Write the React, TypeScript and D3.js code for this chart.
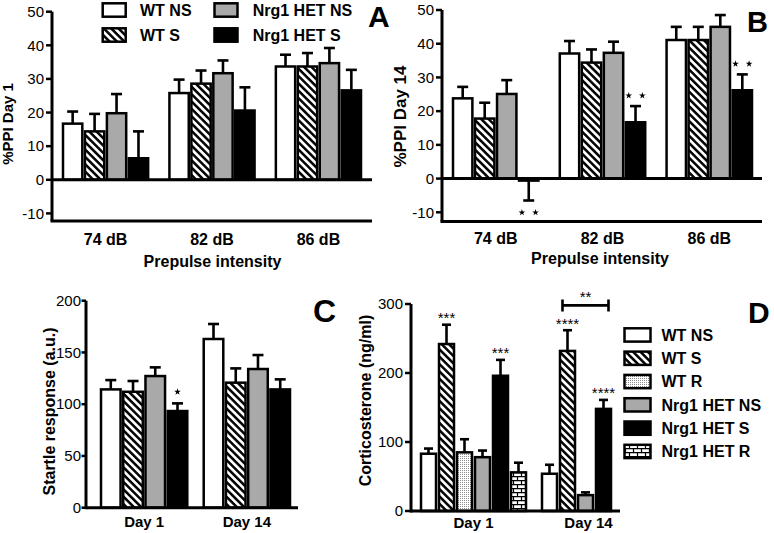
import React from "react";
import * as d3 from "d3";

// ---------------- data ----------------
const ppiGroups = ["74 dB", "82 dB", "86 dB"];
const ppiSeries = ["WT NS", "WT S", "Nrg1 HET NS", "Nrg1 HET S"];
const ppiDay1Mean = [[16.7, 14.4, 19.8, 6.4], [25.8, 28.6, 31.7, 20.6], [33.7, 33.7, 34.7, 26.6]];
const ppiDay1ErrEnd = [[20.3, 19.6, 25.5, 14.4], [29.8, 32.5, 35.5, 27.5], [37.2, 37.7, 39.2, 32.7]];
const ppiDay1Stars = [[0, 0, 0, 0], [0, 0, 0, 0], [0, 0, 0, 0]];
const ppiDay14Mean = [[23.8, 17.8, 25.1, -0.6], [37.1, 34.4, 37.3, 16.7], [41.1, 41.1, 45.0, 26.2]];
const ppiDay14ErrEnd = [[27.2, 22.5, 29.2, -6.5], [40.8, 38.3, 40.6, 21.5], [45.0, 45.0, 48.5, 30.9]];
const ppiDay14Stars = [[0, 0, 0, 2], [0, 0, 0, 2], [0, 0, 0, 2]];
const ppiTicks = [-10, 0, 10, 20, 30, 40, 50];

const days = ["Day 1", "Day 14"];
const startleMean = [[114.3, 112.0, 127.2, 93.4], [163.0, 120.8, 134.0, 114.3]];
const startleErrEnd = [[123.3, 122.4, 135.6, 100.8], [177.5, 134.6, 147.5, 124.0]];
const startleStars = [[0, 0, 0, 1], [0, 0, 0, 0]];
const startleTicks = [0, 50, 100, 150, 200];

const cortSeries = ["WT NS", "WT S", "WT R", "Nrg1 HET NS", "Nrg1 HET S", "Nrg1 HET R"];
const cortDay14Series = ["WT NS", "WT S", "Nrg1 HET NS", "Nrg1 HET S"];
const cortDay1Mean = [83, 242, 85, 78, 196, 56];
const cortDay1ErrEnd = [90.5, 270, 104, 87.6, 219, 70];
const cortDay1Sig = ["", "***", "", "", "***", ""];
const cortDay14Mean = [54, 232, 23, 148];
const cortDay14ErrEnd = [67, 262, 27, 161];
const cortDay14Sig = ["", "****", "", "****"];
const cortTicks = [0, 100, 200, 300];
const cortBracketEnds = ["WT S", "Nrg1 HET S"];
const cortBracketLabel = "**";

// ---------------- styling ----------------
const FONT = "'Liberation Sans', Arial, Helvetica, sans-serif";
const FILL: Record<string, string> = {
  "WT NS": "#ffffff",
  "WT S": "url(#hatch)",
  "WT R": "url(#dots)",
  "Nrg1 HET NS": "#a9a9a9",
  "Nrg1 HET S": "#000000",
  "Nrg1 HET R": "url(#brick)",
};
const starPath = d3.symbol().type(d3.symbolStar).size(14)() as string;

function Defs() {
  return (
    <defs>
      <pattern id="hatch" patternUnits="userSpaceOnUse" width="5.2" height="5.2" patternTransform="rotate(-45)">
        <rect width="5.2" height="5.2" fill="#fff" />
        <line x1="1.3" y1="-1" x2="1.3" y2="7" stroke="#000" strokeWidth="2.5" />
      </pattern>
      <pattern id="dots" patternUnits="userSpaceOnUse" width="2" height="2">
        <rect width="2" height="2" fill="#fff" />
        <rect width="1" height="1" fill="#8a8a8a" />
      </pattern>
      <pattern id="brick" patternUnits="userSpaceOnUse" width="8" height="8">
        <rect width="8" height="8" fill="#fff" />
        <path d="M0 0.6H8M0 4.6H8M1.5 0.6V4.6M5.5 4.6V8.6" stroke="#000" strokeWidth="1.2" fill="none" />
      </pattern>
    </defs>
  );
}

function Bar({ x, w, v, e, y, fill, cap }: any) {
  const y0 = y(0);
  const yv = y(v);
  const ye = y(e);
  const cx = x + w / 2;
  return (
    <g>
      <line x1={cx} x2={cx} y1={yv} y2={ye} stroke="#000" strokeWidth={2.6} />
      <line x1={cx - cap / 2} x2={cx + cap / 2} y1={ye} y2={ye} stroke="#000" strokeWidth={2.6} />
      <rect x={x} y={Math.min(y0, yv)} width={w} height={Math.abs(y0 - yv)} fill={fill} stroke="#000" strokeWidth={2.5} />
    </g>
  );
}

function Stars({ cx, cy, n }: any) {
  const offs = n === 2 ? [-6.8, 6.8] : n === 1 ? [0] : [];
  return (
    <g>
      {offs.map((o, i) => (
        <path key={i} d={starPath} transform={`translate(${cx + o},${cy})`} fill="#000" />
      ))}
    </g>
  );
}

function YAxis({ x, y, ticks, tickLen, pad, top, bottom, fontSize }: any) {
  return (
    <g>
      <line x1={x} x2={x} y1={top} y2={bottom} stroke="#000" strokeWidth={3} />
      {ticks.map((t: number) => (
        <g key={t}>
          <line x1={x - tickLen} x2={x} y1={y(t)} y2={y(t)} stroke="#000" strokeWidth={2.5} />
          <text x={x - tickLen - pad} y={y(t)} dy="0.35em" textAnchor="end" fontSize={fontSize} fill="#000">
            {t}
          </text>
        </g>
      ))}
    </g>
  );
}

function PPIPanel({ means, errs, stars, y, axisX, right, bottom, range, yLabel, yLabelX, yLabelY, yLabelSize, catY, titleY, titleX }: any) {
  const xg = d3.scaleBand().domain(ppiGroups).range(range).paddingInner(0.2);
  const xi = d3.scaleBand().domain(ppiSeries).range([0, xg.bandwidth()]).paddingInner(0.12);
  return (
    <g>
      {ppiGroups.map((g, gi) =>
        ppiSeries.map((s, si) => {
          const x = (xg(g) as number) + (xi(s) as number);
          const w = xi.bandwidth();
          const v = means[gi][si];
          const e = errs[gi][si];
          const ye = y(e);
          const cy = e >= v ? ye - 10.5 : ye + 12;
          return (
            <g key={g + s}>
              <Bar x={x} w={w} v={v} e={e} y={y} fill={FILL[s]} cap={11} />
              <Stars cx={x + w / 2} cy={cy} n={stars[gi][si]} />
            </g>
          );
        })
      )}
      <line x1={axisX} x2={right} y1={y(0)} y2={y(0)} stroke="#000" strokeWidth={3} />
      <line x1={axisX - 1.5} x2={right} y1={bottom} y2={bottom} stroke="#000" strokeWidth={3} />
      <YAxis x={axisX} y={y} ticks={ppiTicks} tickLen={6} pad={2} top={y(50)} bottom={bottom} fontSize={15} />
      {ppiGroups.map((g) => (
        <text key={g} x={(xg(g) as number) + xg.bandwidth() / 2} y={catY} textAnchor="middle" fontSize={16} fontWeight="bold">
          {g}
        </text>
      ))}
      <text x={titleX} y={titleY} textAnchor="middle" fontSize={16} fontWeight="bold">
        Prepulse intensity
      </text>
      <text transform={`translate(${yLabelX},${yLabelY}) rotate(-90)`} textAnchor="middle" fontSize={yLabelSize} fontWeight="bold">
        {yLabel}
      </text>
    </g>
  );
}

function StartlePanel() {
  const y = d3.scaleLinear().domain([0, 200]).range([507.7, 300.7]);
  const xg = d3.scaleBand().domain(days).range([101, 290]).paddingInner(0.16);
  const xi = d3.scaleBand().domain(ppiSeries).range([0, xg.bandwidth()]).paddingInner(0.12);
  return (
    <g>
      {days.map((d, di) =>
        ppiSeries.map((s, si) => {
          const x = (xg(d) as number) + (xi(s) as number);
          const w = xi.bandwidth();
          const e = startleErrEnd[di][si];
          return (
            <g key={d + s}>
              <Bar x={x} w={w} v={startleMean[di][si]} e={e} y={y} fill={FILL[s]} cap={11} />
              <Stars cx={x + w / 2} cy={y(e) - 11.5} n={startleStars[di][si]} />
            </g>
          );
        })
      )}
      <line x1={86} x2={298} y1={y(0)} y2={y(0)} stroke="#000" strokeWidth={3} />
      <YAxis x={86} y={y} ticks={startleTicks} tickLen={4.5} pad={0.5} top={y(200)} bottom={y(0) + 1.5} fontSize={15} />
      {days.map((d) => (
        <text key={d} x={(xg(d) as number) + xg.bandwidth() / 2} y={526.5} textAnchor="middle" fontSize={15} fontWeight="bold">
          {d}
        </text>
      ))}
      <text transform={`translate(54.5,411.5) rotate(-90)`} textAnchor="middle" fontSize={16} fontWeight="bold">
        Startle response (a.u.)
      </text>
    </g>
  );
}

function CortPanel() {
  const y = d3.scaleLinear().domain([0, 300]).range([511, 304]);
  const xg = d3.scaleBand().domain(days).range([413, 655]);
  const groups = [
    { day: days[0], series: cortSeries, mean: cortDay1Mean, err: cortDay1ErrEnd, sig: cortDay1Sig },
    { day: days[1], series: cortDay14Series, mean: cortDay14Mean, err: cortDay14ErrEnd, sig: cortDay14Sig },
  ];
  const step = 18;
  const centers: Record<string, number> = {};
  const bars = groups.map((g) => {
    const start = (xg(g.day) as number) + 8;
    const xi = d3.scaleBand().domain(g.series).range([start, start + step * g.series.length - 3]).paddingInner(3 / step);
    return g.series.map((s, si) => {
      const x = xi(s) as number;
      const w = xi.bandwidth();
      if (g.day === days[1]) centers[s] = x + w / 2;
      const e = g.err[si];
      return (
        <g key={g.day + s}>
          <Bar x={x} w={w} v={g.mean[si]} e={e} y={y} fill={FILL[s]} cap={9} />
          {g.sig[si] ? (
            <text x={x + w / 2} y={y(e) - 1.5} textAnchor="middle" fontSize={15}>
              {g.sig[si]}
            </text>
          ) : null}
        </g>
      );
    });
  });
  const bx1 = centers[cortBracketEnds[0]] - 5;
  const bx2 = centers[cortBracketEnds[1]] + 5;
  const by = y(298);
  return (
    <g>
      {bars}
      <line x1={411} x2={620} y1={y(0)} y2={y(0)} stroke="#000" strokeWidth={3} />
      <YAxis x={411} y={y} ticks={cortTicks} tickLen={6} pad={2} top={y(300)} bottom={y(0) + 1.5} fontSize={15} />
      <path d={`M${bx1},${by - 6}V${by + 6}M${bx1},${by}H${bx2}M${bx2},${by - 6}V${by + 6}`} stroke="#000" strokeWidth={2.6} fill="none" />
      <text x={(bx1 + bx2) / 2} y={by - 3.5} textAnchor="middle" fontSize={15}>
        {cortBracketLabel}
      </text>
      {days.map((d, i) => (
        <text key={d} x={(xg(d) as number) + xg.bandwidth() / 2 - (i === 1 ? 6 : 0)} y={528} textAnchor="middle" fontSize={15} fontWeight="bold">
          {d}
        </text>
      ))}
      <text transform={`translate(370.5,400.5) rotate(-90)`} textAnchor="middle" fontSize={16} fontWeight="bold">
        Corticosterone (ng/ml)
      </text>
      {cortSeries.map((s, i) => (
        <g key={s}>
          <rect x={624.5} y={328.3 + i * 23.3} width={26} height={13.3} fill={FILL[s]} stroke="#000" strokeWidth={2.5} />
          <text x={661.5} y={328.3 + i * 23.3 + 12.5} fontSize={16} fontWeight="bold">
            {s}
          </text>
        </g>
      ))}
    </g>
  );
}

function LegendA() {
  const cols = [
    [ppiSeries[0], ppiSeries[1]],
    [ppiSeries[2], ppiSeries[3]],
  ];
  const boxX = [102.7, 214.5];
  const textX = [140, 252.7];
  const rowY = [3.3, 28.3];
  return (
    <g>
      {cols.map((c, ci) =>
        c.map((s, ri) => (
          <g key={s}>
            <rect x={boxX[ci]} y={rowY[ri]} width={23} height={13.4} fill={FILL[s]} stroke="#000" strokeWidth={2.5} />
            <text x={textX[ci]} y={rowY[ri] + 12.8} fontSize={16} fontWeight="bold">
              {s}
            </text>
          </g>
        ))
      )}
    </g>
  );
}

export default function App() {
  const yA = d3.scaleLinear().domain([-10, 50]).range([213.4, 11.7]);
  const yB = d3.scaleLinear().domain([-10, 50]).range([212.3, 10]);
  return (
    <svg width={774} height={533} style={{ position: "absolute", left: 0, top: 0, background: "#fff" }} fontFamily={FONT}>
      <Defs />
      <rect width={774} height={533} fill="#fff" />
      <PPIPanel means={ppiDay1Mean} errs={ppiDay1ErrEnd} stars={ppiDay1Stars} y={yA} axisX={52} right={372} bottom={221}
        range={[63, 361]} yLabel="%PPI Day 1" yLabelX={12.5} yLabelY={124} yLabelSize={15} catY={245} titleX={212.5} titleY={266.5} />
      <PPIPanel means={ppiDay14Mean} errs={ppiDay14ErrEnd} stars={ppiDay14Stars} y={yB} axisX={442} right={762} bottom={221.5}
        range={[453, 752]} yLabel="%PPI Day 14" yLabelX={405.5} yLabelY={116.5} yLabelSize={17} catY={243.5} titleX={600} titleY={264} />
      <LegendA />
      <StartlePanel />
      <CortPanel />
      <text x={368} y={27} fontSize={30} fontWeight="bold">A</text>
      <text x={747} y={32} fontSize={29} fontWeight="bold">B</text>
      <text x={313} y={322} fontSize={32} fontWeight="bold">C</text>
      <text x={748} y={323} fontSize={30} fontWeight="bold">D</text>
    </svg>
  );
}
